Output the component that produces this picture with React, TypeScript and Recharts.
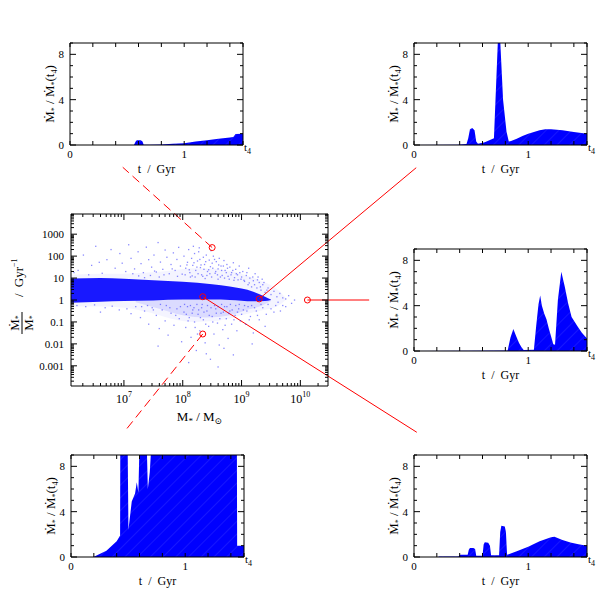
import React from 'react';
import { Area, ComposedChart, ReferenceLine, Scatter, XAxis, YAxis } from 'recharts';

const SERIF = '"Liberation Serif", "DejaVu Serif", serif';
const BLUE = '#0000ff';
const RED = '#ff0000';

// ---------- small panels: SFR history, normalised to its value at t4 ----------
const T4 = 1.515;
const panelTimeTicks = [0, 0.2, 0.4, 0.6, 0.8, 1, 1.2, 1.4, T4];
const panelRateTicks = [0, 1, 2, 3, 4, 5, 6, 7, 8, 9];
const panelRateLabels = [0, 4, 8];
const panelTimeLabels = [0, 1];

// top left
const tA = [0, 0.56, 0.575, 0.585, 0.62, 0.635, 0.645, 0.7, 0.8, 0.9, 1.0, 1.1, 1.2, 1.3, 1.4, 1.43, 1.45, 1.515];
const rateA = [0, 0, 0.3, 0.42, 0.42, 0.3, 0.02, 0.02, 0.05, 0.1, 0.16, 0.3, 0.43, 0.55, 0.66, 0.7, 0.97, 1.0];

// top right
const tB = [0, 0.38, 0.46, 0.475, 0.49, 0.51, 0.53, 0.545, 0.56, 0.62, 0.68, 0.7, 0.735, 0.745, 0.755, 0.78, 0.81, 0.83, 0.85, 0.9, 0.95, 1.0, 1.05, 1.1, 1.15, 1.2, 1.3, 1.4, 1.515];
const rateB = [0, 0.03, 0.08, 0.6, 1.4, 1.5, 1.3, 0.3, 0.1, 0.25, 0.5, 0.6, 9.3, 9.6, 9.2, 4.0, 1.2, 0.3, 0.35, 0.55, 0.8, 1.0, 1.15, 1.3, 1.38, 1.4, 1.3, 1.15, 1.0];

// middle right
const tC = [0, 0.5, 0.82, 0.845, 0.87, 0.895, 0.92, 0.94, 0.96, 1.05, 1.07, 1.09, 1.105, 1.12, 1.14, 1.16, 1.18, 1.2, 1.22, 1.235, 1.26, 1.29, 1.32, 1.35, 1.38, 1.43, 1.47, 1.515];
const rateC = [0, 0.03, 0.05, 1.2, 1.95, 1.3, 0.7, 0.35, 0.08, 0.1, 2.2, 4.1, 4.9, 4.0, 3.3, 2.8, 2.0, 1.3, 0.6, 0.55, 4.5, 7.0, 5.7, 4.2, 3.0, 2.2, 1.6, 1.1];

// bottom left (clipped at the top of the panel)
const tD = [0, 0.196, 0.31, 0.4, 0.43, 0.432, 0.494, 0.503, 0.532, 0.561, 0.576, 0.59, 0.605, 0.658, 0.673, 0.69, 0.716, 1.452, 1.455, 1.515];
const rateD = [0, 0, 0.55, 1.4, 1.9, 12, 12, 2.4, 4.9, 5.6, 6.6, 5.7, 12, 12, 6.0, 7.5, 12, 12, 1.0, 1.0];

// bottom right
const tE = [0, 0.21, 0.22, 0.39, 0.4, 0.47, 0.48, 0.49, 0.52, 0.535, 0.545, 0.6, 0.61, 0.62, 0.65, 0.665, 0.675, 0.745, 0.755, 0.765, 0.795, 0.805, 0.815, 0.9, 1.0, 1.1, 1.2, 1.23, 1.3, 1.37, 1.44, 1.515];
const rateE = [0, 0, 0.05, 0.05, 0.2, 0.2, 0.65, 0.8, 0.8, 0.7, 0.12, 0.12, 1.1, 1.3, 1.25, 1.0, 0.15, 0.15, 2.2, 2.75, 2.7, 2.2, 0.2, 0.5, 0.9, 1.4, 1.75, 1.78, 1.5, 1.28, 1.12, 1.0];

// ---------- central panel: log10 M* vs log10 (Mdot*/M*) ----------
const massDomainLog = [6.1, 10.47];
const ssfrDomainLog = [-3.92, 3.92];

// dense ridge of the distribution
const bandLogM = [6.1, 6.6, 7.0, 7.5, 8.0, 8.5, 8.8, 9.0, 9.2, 9.4, 9.5];
const bandLo = [-0.12, -0.08, -0.05, -0.02, 0.02, 0.02, 0.0, -0.03, -0.06, -0.05, 0.0];
const bandHi = [0.98, 1.0, 0.97, 0.9, 0.83, 0.72, 0.62, 0.52, 0.38, 0.15, 0.02];

// faint envelope around it
const hazeLogM = [6.1, 6.6, 7.0, 7.4, 7.8, 8.2, 8.6, 9.0, 9.3, 9.6, 9.75];
const hazeLo = [-0.3, -0.3, -0.35, -0.55, -0.85, -1.0, -0.95, -0.7, -0.5, -0.3, 0];
const hazeHi = [1.15, 1.2, 1.2, 1.25, 1.35, 1.45, 1.4, 1.2, 0.9, 0.5, 0.1];

// busier region just below the ridge
const underLogM = [7.2, 7.6, 8.0, 8.4, 8.8, 9.1, 9.35, 9.5];
const underLo = [-0.1, -0.4, -0.7, -0.8, -0.7, -0.45, -0.25, -0.05];
const underHi = [0, 0.02, 0.05, 0.05, 0.02, -0.01, -0.03, 0];

// scattered galaxies [log M, log ssfr]
const upperPoints: [number, number][] = [
  [6.22, 1.35], [6.31, 2.05], [6.45, 1.58], [6.52, 2.45], [6.63, 1.22], [6.71, 1.84], [6.78, 2.3], [6.85, 1.45],
  [6.93, 2.12], [6.97, 1.68], [6.4, 1.15], [6.15, 1.25], [6.58, 1.72],
  [7.03, 1.3], [7.08, 2.52], [7.12, 1.9], [7.18, 1.42], [7.24, 2.2], [7.29, 1.66], [7.33, 1.25], [7.38, 2.41],
  [7.42, 1.84], [7.47, 1.5], [7.51, 2.05], [7.55, 1.28], [7.58, 2.62], [7.62, 1.73], [7.66, 1.4], [7.7, 2.28],
  [7.73, 1.95], [7.77, 1.2], [7.8, 1.62], [7.84, 2.15], [7.87, 1.35], [7.9, 1.85], [7.93, 2.4], [7.96, 1.55],
  [7.99, 1.18], [7.45, 1.12], [7.15, 1.2], [7.6, 1.05], [7.35, 1.02],
  [8.02, 2.0], [8.05, 1.45], [8.08, 1.72], [8.1, 2.3], [8.12, 1.25], [8.15, 1.9], [8.17, 1.58], [8.2, 2.12],
  [8.22, 1.35], [8.25, 1.78], [8.27, 2.2], [8.3, 1.48], [8.32, 1.15], [8.35, 1.95], [8.37, 1.62], [8.4, 2.05],
  [8.42, 1.3], [8.45, 1.82], [8.47, 1.52], [8.5, 1.68], [8.52, 2.0], [8.55, 1.22], [8.57, 1.75], [8.6, 1.42],
  [8.62, 1.9], [8.65, 1.55], [8.67, 1.12], [8.7, 1.8], [8.72, 1.35], [8.75, 1.62], [8.77, 1.08], [8.8, 1.5],
  [8.83, 1.25], [8.86, 1.7], [8.88, 1.02], [8.9, 1.4], [8.93, 1.15], [8.96, 1.55], [8.99, 0.95], [8.13, 1.05],
  [8.38, 0.98], [8.6, 0.95], [8.28, 2.38], [8.48, 2.25], [8.18, 2.45],
  [9.02, 1.3], [9.05, 0.85], [9.08, 1.12], [9.11, 0.7], [9.14, 1.0], [9.17, 0.6], [9.2, 0.88], [9.23, 1.2],
  [9.26, 0.55], [9.3, 0.8], [9.33, 0.45], [9.36, 0.7], [9.4, 0.35], [9.45, 0.55], [9.5, 0.25], [9.55, 0.4],
  [9.6, 0.15], [9.65, 0.3], [9.7, 0.1], [9.75, 0.05], [9.8, 0.2], [9.9, 0.0], [9.12, 1.45], [9.28, 1.05], [9.35, 0.95],
  [7.25, 1.1], [7.52, 1.32], [7.68, 1.15], [7.82, 1.42], [7.91, 1.08], [8.04, 1.15], [8.07, 1.6], [8.11, 1.38],
  [8.16, 1.1], [8.19, 1.7], [8.21, 1.05], [8.24, 1.5], [8.26, 1.2], [8.29, 1.85], [8.31, 1.6], [8.34, 1.08],
  [8.36, 1.4], [8.39, 1.75], [8.41, 1.12], [8.44, 1.38], [8.46, 1.2], [8.49, 1.05], [8.51, 1.45], [8.54, 1.85],
  [8.56, 1.3], [8.59, 1.15], [8.61, 1.6], [8.64, 1.05], [8.66, 1.35], [8.69, 1.55], [8.71, 1.0], [8.74, 1.25],
  [8.76, 1.45], [8.79, 0.95], [8.82, 1.15], [8.85, 1.35], [8.87, 0.9], [8.91, 1.2], [8.94, 0.92], [8.97, 1.25],
  [9.0, 1.05], [9.04, 0.9], [9.09, 1.25], [9.13, 0.78], [9.19, 1.05], [9.22, 0.7], [9.27, 0.92], [9.32, 0.6],
  [9.38, 0.8], [9.43, 0.45],
];
const lowerPoints: [number, number][] = [
  [6.2, -0.25], [6.35, -0.3], [6.5, -0.22], [6.68, -0.35], [6.8, -0.28], [6.92, -0.45], [6.6, -0.55],
  [7.05, -0.4], [7.12, -0.62], [7.2, -0.3], [7.28, -0.8], [7.35, -0.5], [7.42, -1.1], [7.48, -0.35], [7.55, -0.7],
  [7.6, -1.3], [7.65, -0.45], [7.7, -0.95], [7.75, -1.6], [7.8, -0.6], [7.85, -1.15], [7.9, -0.4], [7.94, -0.85],
  [7.98, -1.9], [7.4, -0.25], [7.72, -0.25], [7.58, -2.1],
  [8.02, -0.55], [8.05, -1.25], [8.08, -0.3], [8.11, -0.8], [8.14, -1.7], [8.17, -0.45], [8.2, -1.0], [8.23, -2.3],
  [8.26, -0.65], [8.29, -1.4], [8.32, -0.35], [8.35, -0.9], [8.38, -1.95], [8.41, -0.5], [8.44, -1.2], [8.47, -2.7],
  [8.5, -0.75], [8.53, -1.55], [8.56, -0.4], [8.59, -1.05], [8.62, -2.05], [8.65, -0.6], [8.68, -1.35], [8.71, -0.3],
  [8.74, -0.85], [8.77, -1.75], [8.8, -0.5], [8.83, -1.1], [8.86, -2.5], [8.89, -0.7], [8.92, -1.4], [8.95, -0.4],
  [8.98, -0.95], [8.1, -2.85], [8.6, -3.05], [8.4, -2.45], [8.25, -1.55], [8.7, -2.2],
  [9.03, -0.45], [9.07, -1.1], [9.11, -0.3], [9.15, -0.75], [9.2, -1.5], [9.25, -0.5], [9.3, -0.9], [9.36, -0.35],
  [9.42, -0.65], [9.5, -0.4], [9.58, -0.25], [9.66, -0.5], [9.75, -0.3], [9.85, -0.15], [9.18, -2.0], [9.4, -1.2],
  [7.3, -0.3], [7.5, -0.45], [7.62, -0.2], [7.78, -0.35], [7.88, -0.7], [7.96, -0.3], [8.03, -0.2], [8.06, -0.65],
  [8.09, -0.95], [8.13, -0.25], [8.16, -0.6], [8.19, -0.35], [8.21, -1.25], [8.24, -0.2], [8.27, -0.45], [8.3, -0.8],
  [8.33, -0.2], [8.36, -0.55], [8.39, -1.1], [8.42, -0.25], [8.45, -0.7], [8.48, -0.35], [8.51, -1.0], [8.54, -0.25],
  [8.57, -0.6], [8.6, -0.3], [8.63, -0.85], [8.66, -0.2], [8.69, -0.55], [8.72, -1.15], [8.75, -0.3], [8.78, -0.6],
  [8.81, -0.2], [8.84, -0.45], [8.87, -0.9], [8.9, -0.25], [8.93, -0.55], [8.96, -0.2], [9.0, -0.65], [9.05, -0.25],
  [9.09, -0.5], [9.13, -0.9], [9.17, -0.25], [9.22, -0.35], [9.27, -0.7], [9.33, -0.2], [9.45, -0.2], [9.55, -0.55],
  [9.62, -0.1], [9.7, -0.25],
];

// highlighted galaxies and where their leader lines go
const markLogM = [8.5, 9.3, 10.12, 8.34, 8.34];
const markLogS = [2.39, 0.05, 0.0, 0.15, -1.55];
const leaderEndLogM = [6.98, 11.97, 11.17, 11.98, 7.0];
const leaderEndLogS = [6.05, 6.03, 0.0, -6.03, -6.03];
const leaderDashed = [true, false, false, false, true];

const massMajor = [7, 8, 9, 10];
const ssfrMajor = [-3, -2, -1, 0, 1, 2, 3];

// ---------- helpers ----------
// Ticks point into the frame; the bottom/left axis also draws the matching top/right tick.
function frameTick(
  side: 'bottom' | 'left',
  span: number,
  len: (v: number) => number,
  label?: (v: number, x: number, y: number) => React.ReactNode,
) {
  return (props: any) => {
    const x = Number(props.x);
    const y = Number(props.y);
    const v = props.payload.value;
    const l = len(v);
    return (
      <g>
        {l > 0 && side === 'bottom' && (
          <>
            <line x1={x} y1={y} x2={x} y2={y - l} stroke="#000" />
            <line x1={x} y1={y - span} x2={x} y2={y - span + l} stroke="#000" />
          </>
        )}
        {l > 0 && side === 'left' && (
          <>
            <line x1={x} y1={y} x2={x + l} y2={y} stroke="#000" />
            <line x1={x + span} y1={y} x2={x + span - l} y2={y} stroke="#000" />
          </>
        )}
        {label ? label(v, x, y) : null}
      </g>
    );
  };
}

const logTicks = (lo: number, hi: number) => {
  const out: number[] = [];
  for (let d = Math.floor(lo); d <= Math.ceil(hi); d++) {
    for (let k = 1; k <= 9; k++) {
      const v = k * Math.pow(10, d);
      if (Math.log10(v) >= lo && Math.log10(v) <= hi) out.push(v);
    }
  }
  return out;
};
const isDecade = (v: number) => Math.abs(Math.log10(v) - Math.round(Math.log10(v))) < 1e-6;

const axisLine = { stroke: '#000', strokeWidth: 1 };
const bare = { tickSize: 0, tickMargin: 0, tickLine: false, axisLine, interval: 0 as const, allowDataOverflow: true };

// ---------- small panel ----------
const PANEL_W = 173;
const PANEL_H = 102;
const PAD = { l: 62, t: 12, r: 24, b: 42 };

interface PanelProps {
  id: string;
  left: number;
  top: number;
  t: number[];
  rate: number[];
}

const timeLabel = (v: number, x: number, y: number) => {
  if (v === T4) {
    return (
      <text x={x + 1} y={y + 6} fontFamily={SERIF} fontSize={11} fill="#000">
        t<tspan fontSize={8} dy={3}>4</tspan>
      </text>
    );
  }
  if (!panelTimeLabels.includes(v)) return null;
  return (
    <text x={x} y={y + 13} textAnchor="middle" fontFamily={SERIF} fontSize={11} fill="#000">
      {v}
    </text>
  );
};

const rateLabel = (v: number, x: number, y: number) =>
  panelRateLabels.includes(v) ? (
    <text x={x - 6} y={y + 4} textAnchor="end" fontFamily={SERIF} fontSize={11} fill="#000">
      {v}
    </text>
  ) : null;

const PanelXLabel = (props: any) => {
  const vb = props.viewBox;
  return (
    <text x={vb.x + vb.width / 2} y={vb.y + 28} textAnchor="middle" fontFamily={SERIF} fontSize={12} wordSpacing={3} fill="#000">
      t / Gyr
    </text>
  );
};

const PanelYLabel = (props: any) => {
  const vb = props.viewBox;
  const cx = vb.x + vb.width - 16;
  const cy = vb.y + vb.height / 2;
  return (
    <text transform={`translate(${cx},${cy}) rotate(-90)`} textAnchor="middle" fontFamily={SERIF} fontSize={13} fill="#000">
      Ṁ<tspan fontSize={8} dy={3}>*</tspan>
      <tspan dy={-3}> / Ṁ</tspan>
      <tspan fontSize={8} dy={3}>*</tspan>
      <tspan dy={-3}>(t</tspan>
      <tspan fontSize={8} dy={3}>4</tspan>
      <tspan dy={-3}>)</tspan>
    </text>
  );
};

function Panel({ id, left, top, t, rate }: PanelProps) {
  const data = t.map((time, i) => ({ t: time, rate: rate[i] }));
  const xLen = () => 4;
  const yLen = (v: number) => (panelRateLabels.includes(v) ? 6 : 3);
  return (
    <div style={{ position: 'absolute', left: left - PAD.l, top: top - PAD.t }}>
      <ComposedChart
        width={PANEL_W + PAD.l + PAD.r}
        height={PANEL_H + PAD.t + PAD.b}
        data={data}
        margin={{ left: PAD.l - 1, right: PAD.r - 1, top: PAD.t - 1, bottom: PAD.b - 1 }}
      >
        <defs>
          <pattern id={`hatch-${id}`} patternUnits="userSpaceOnUse" width={9} height={9} patternTransform="rotate(45)">
            <rect width={9} height={9} fill={BLUE} />
            <line x1={0} y1={0} x2={0} y2={9} stroke="#ffffff" strokeOpacity={0.14} strokeWidth={1.2} />
          </pattern>
        </defs>
        <XAxis
          xAxisId="b"
          orientation="bottom"
          dataKey="t"
          type="number"
          domain={[0, T4]}
          ticks={panelTimeTicks}
          height={1}
          tick={frameTick('bottom', PANEL_H, xLen, timeLabel)}
          label={PanelXLabel}
          {...bare}
        />
        <XAxis xAxisId="t" orientation="top" type="number" domain={[0, T4]} height={1} tick={false} {...bare} />
        <YAxis
          yAxisId="l"
          orientation="left"
          type="number"
          domain={[0, 9]}
          ticks={panelRateTicks}
          width={1}
          tick={frameTick('left', PANEL_W, yLen, rateLabel)}
          label={PanelYLabel}
          {...bare}
        />
        <YAxis yAxisId="r" orientation="right" type="number" domain={[0, 9]} width={1} tick={false} {...bare} />
        <Area
          xAxisId="b"
          yAxisId="l"
          type="linear"
          dataKey="rate"
          stroke="none"
          fill={`url(#hatch-${id})`}
          fillOpacity={1}
          isAnimationActive={false}
        />
      </ComposedChart>
    </div>
  );
}

// ---------- central panel ----------
const CW = 598;
const CH = 611;
const BOX = { l: 71, t: 214, r: 328, b: 386 };

const massLabel = (v: number, x: number, y: number) =>
  isDecade(v) && massMajor.includes(Math.round(Math.log10(v))) ? (
    <text x={x} y={y + 17} textAnchor="middle" fontFamily={SERIF} fontSize={12} fill="#000">
      10<tspan fontSize={8} dy={-6}>{Math.round(Math.log10(v))}</tspan>
    </text>
  ) : null;

const ssfrLabel = (v: number, x: number, y: number) => {
  const e = Math.round(Math.log10(v));
  return isDecade(v) && ssfrMajor.includes(e) ? (
    <text x={x - 7} y={y + 4} textAnchor="end" fontFamily={SERIF} fontSize={11} fill="#000">
      {Math.pow(10, e).toFixed(Math.max(0, -e))}
    </text>
  ) : null;
};

const MassAxisLabel = (props: any) => {
  const vb = props.viewBox;
  return (
    <text x={vb.x + vb.width / 2} y={vb.y + 35} textAnchor="middle" fontFamily={SERIF} fontSize={13} fill="#000">
      M<tspan fontSize={9} dy={3}>*</tspan>
      <tspan dy={-3}> / M</tspan>
      <tspan fontSize={9} dy={3}>⊙</tspan>
    </text>
  );
};

const SsfrAxisLabel = (props: any) => {
  const vb = props.viewBox;
  const cx = vb.x + vb.width - 48;
  const cy = vb.y + vb.height / 2;
  return (
    <g transform={`translate(${cx},${cy}) rotate(-90)`} fontFamily={SERIF} fill="#000">
      <text x={-23} y={-4} textAnchor="middle" fontSize={13}>
        Ṁ<tspan fontSize={8} dy={2}>*</tspan>
      </text>
      <line x1={-34} x2={-12} y1={-1} y2={-1} stroke="#000" strokeWidth={1} />
      <text x={-23} y={10} textAnchor="middle" fontSize={13}>
        M<tspan fontSize={8} dy={2}>*</tspan>
      </text>
      <text x={3} y={0} fontSize={13} wordSpacing={3}>
        / Gyr<tspan fontSize={8} dy={-6}>−1</tspan>
      </text>
    </g>
  );
};

const Speck = (p: any) => (
  <rect x={p.cx - 0.6} y={p.cy - 0.6} width={1.3} height={1.3} fill="#2a2aff" fillOpacity={0.55} />
);
const Ring = (p: any) => <circle cx={p.cx} cy={p.cy} r={3} fill="none" stroke={RED} strokeWidth={1} />;

const toRange = (logM: number[], lo: number[], hi: number[]) =>
  logM.map((m, i) => ({ x: Math.pow(10, m), y: [Math.pow(10, lo[i]), Math.pow(10, hi[i])] }));

function Central() {
  const massDomain = massDomainLog.map((v) => Math.pow(10, v));
  const ssfrDomain = ssfrDomainLog.map((v) => Math.pow(10, v));
  const massTicks = logTicks(massDomainLog[0], massDomainLog[1]);
  const ssfrTicks = logTicks(ssfrDomainLog[0], ssfrDomainLog[1]);
  const band = toRange(bandLogM, bandLo, bandHi);
  const haze = toRange(hazeLogM, hazeLo, hazeHi);
  const under = toRange(underLogM, underLo, underHi);
  const specks = [...upperPoints, ...lowerPoints].map(([m, s]) => ({ x: Math.pow(10, m), y: Math.pow(10, s) }));
  const marks = markLogM.map((m, i) => ({ x: Math.pow(10, m), y: Math.pow(10, markLogS[i]) }));
  const majLen = (v: number) => (isDecade(v) ? 6 : 3);

  return (
    <div style={{ position: 'absolute', left: 0, top: 0 }}>
      <ComposedChart
        width={CW}
        height={CH}
        margin={{ left: BOX.l - 1, top: BOX.t - 1, right: CW - BOX.r - 1, bottom: CH - BOX.b - 1 }}
      >
        <XAxis
          xAxisId="b"
          orientation="bottom"
          dataKey="x"
          type="number"
          scale="log"
          domain={massDomain}
          ticks={massTicks}
          height={1}
          tick={frameTick('bottom', BOX.b - BOX.t, majLen, massLabel)}
          label={MassAxisLabel}
          {...bare}
        />
        <XAxis xAxisId="t" orientation="top" type="number" scale="log" domain={massDomain} height={1} tick={false} {...bare} />
        <YAxis
          yAxisId="l"
          orientation="left"
          dataKey="y"
          type="number"
          scale="log"
          domain={ssfrDomain}
          ticks={ssfrTicks}
          width={1}
          tick={frameTick('left', BOX.r - BOX.l, majLen, ssfrLabel)}
          label={SsfrAxisLabel}
          {...bare}
        />
        <YAxis yAxisId="r" orientation="right" type="number" scale="log" domain={ssfrDomain} width={1} tick={false} {...bare} />
        <Area xAxisId="b" yAxisId="l" data={haze} dataKey="y" type="monotone" stroke="none" fill={BLUE} fillOpacity={0.045} isAnimationActive={false} />
        <Area xAxisId="b" yAxisId="l" data={under} dataKey="y" type="monotone" stroke="none" fill={BLUE} fillOpacity={0.1} isAnimationActive={false} />
        <Scatter xAxisId="b" yAxisId="l" data={specks} dataKey="y" shape={Speck} isAnimationActive={false} />
        <Area xAxisId="b" yAxisId="l" data={band} dataKey="y" type="monotone" stroke="none" fill={BLUE} fillOpacity={0.9} isAnimationActive={false} />
        {markLogM.map((m, i) => (
          <ReferenceLine
            key={`leader-${i}`}
            xAxisId="b"
            yAxisId="l"
            ifOverflow="visible"
            segment={[
              { x: Math.pow(10, m), y: Math.pow(10, markLogS[i]) },
              { x: Math.pow(10, leaderEndLogM[i]), y: Math.pow(10, leaderEndLogS[i]) },
            ]}
            stroke={RED}
            strokeWidth={1}
            strokeDasharray={leaderDashed[i] ? '9 5' : undefined}
          />
        ))}
        <Scatter xAxisId="b" yAxisId="l" data={marks} dataKey="y" shape={Ring} isAnimationActive={false} />
      </ComposedChart>
    </div>
  );
}

export default function App() {
  return (
    <div style={{ position: 'absolute', left: 0, top: 0, width: CW, height: CH, background: '#fff', fontFamily: SERIF }}>
      <Panel id="a" left={70} top={43} t={tA} rate={rateA} />
      <Panel id="b" left={414} top={43} t={tB} rate={rateB} />
      <Panel id="c" left={414} top={249} t={tC} rate={rateC} />
      <Panel id="d" left={71} top={455} t={tD} rate={rateD} />
      <Panel id="e" left={414} top={455} t={tE} rate={rateE} />
      <Central />
    </div>
  );
}
